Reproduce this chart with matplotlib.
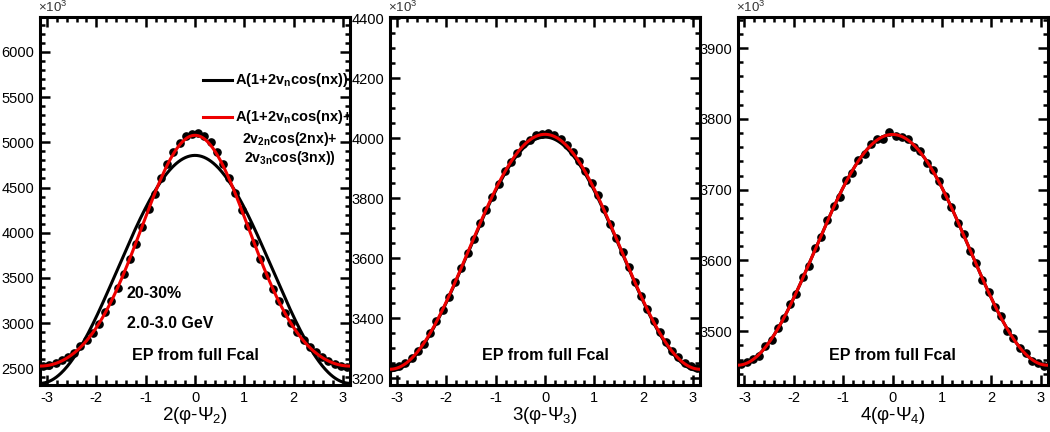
import numpy as np
import matplotlib
matplotlib.use('Agg')
import matplotlib.pyplot as plt

plt.rcParams['font.family'] = ['Liberation Sans', 'DejaVu Sans']
plt.rcParams['mathtext.fontset'] = 'custom'
plt.rcParams['mathtext.rm'] = 'Liberation Sans'
plt.rcParams['mathtext.it'] = 'Liberation Sans:italic'
plt.rcParams['mathtext.bf'] = 'Liberation Sans:bold'
plt.rcParams['axes.unicode_minus'] = False

# number of bins in the dPhi histogram
n_bins = 50

# data points (x10^3), left to right
counts_v2 = [2525, 2540, 2560, 2590, 2630, 2675, 2745, 2810, 2895, 2990, 3120, 3245, 3385,
             3540, 3710, 3880, 4065, 4260, 4430, 4610, 4755, 4890, 4995, 5068, 5095,
             5100, 5072, 5000, 4895, 4760, 4605, 4440, 4255, 4070, 3885, 3705, 3535, 3380,
             3240, 3115, 3000, 2900, 2815, 2740, 2680, 2625, 2585, 2550, 2530, 2520]
counts_v3 = [3238, 3242, 3250, 3268, 3292, 3316, 3353, 3390, 3428, 3472, 3523, 3567, 3617,
             3665, 3718, 3760, 3806, 3848, 3892, 3920, 3952, 3980, 3996, 4010, 4016,
             4018, 4012, 3998, 3978, 3955, 3925, 3890, 3850, 3810, 3765, 3716, 3668, 3620,
             3572, 3522, 3476, 3432, 3392, 3354, 3320, 3293, 3270, 3252, 3240, 3236]
counts_v4 = [3453, 3456, 3461, 3465, 3479, 3487, 3505, 3518, 3539, 3553, 3576, 3592, 3617,
             3633, 3657, 3677, 3690, 3713, 3724, 3742, 3750, 3764, 3771, 3772, 3781,
             3776, 3774, 3772, 3760, 3754, 3738, 3728, 3712, 3691, 3676, 3653, 3637, 3613,
             3596, 3572, 3556, 3534, 3521, 3501, 3490, 3476, 3469, 3458, 3455, 3451]

# fit parameters: A and [v_n, v_2n, v_3n]
fit_black = [(3595, [0.1753]), (3615, [0.0539]), (3615, [0.02255])]
fit_red = [(3595, [0.1753, 0.0287, 0.0022]), (3620, [0.0541, 0.0003]), (3615, [0.02255])]

xlabels = ['2(φ-Ψ$_2$)', '3(φ-Ψ$_3$)', '4(φ-Ψ$_4$)']
ylims = [(2316, 6386), (3178, 4405), (3424, 3944)]
ymajor = [500, 200, 100]
yminor = [100, 50, 20]
lefts = [40, 390, 737.5]


def fourier(x, A, vs):
    y = np.ones_like(x)
    for k, v in enumerate(vs):
        y = y + 2 * v * np.cos((k + 1) * x)
    return A * y


edges = np.linspace(-np.pi, np.pi, n_bins + 1)
xc = 0.5 * (edges[:-1] + edges[1:])
xf = np.linspace(-np.pi, np.pi, 400)

fig = plt.figure(figsize=(10.5, 4.32), dpi=100)
W, H = 1050.0, 432.0

for i, data in enumerate([counts_v2, counts_v3, counts_v4]):
    ax = fig.add_axes([lefts[i] / W, 1 - 385 / H, 310 / W, 368 / H])
    ax.plot(xc, data, 'o', color='black', ms=5.2, zorder=2)
    ax.plot(xf, fourier(xf, *fit_black[i]), color='black', lw=2.2, zorder=3)
    ax.plot(xf, fourier(xf, *fit_red[i]), color='#ee0000', lw=2.2, zorder=4)

    ax.set_xlim(-np.pi, np.pi)
    ax.set_ylim(*ylims[i])
    ax.xaxis.set_major_locator(plt.MultipleLocator(1))
    ax.xaxis.set_minor_locator(plt.MultipleLocator(0.2))
    ax.yaxis.set_major_locator(plt.MultipleLocator(ymajor[i]))
    ax.yaxis.set_minor_locator(plt.MultipleLocator(yminor[i]))
    ax.tick_params(which='both', direction='in', top=True, right=True, labelsize=10.5, pad=4)
    ax.tick_params(which='major', length=7, width=1.8)
    ax.tick_params(which='minor', length=3.8, width=1.8)
    for s in ax.spines.values():
        s.set_linewidth(2.2)
    ax.set_xlabel(xlabels[i], fontsize=13.5, labelpad=0)
    ax.text(-0.005, 1.005, '×10$^3$', transform=ax.transAxes, fontsize=9.5,
            color='#333333', ha='left', va='bottom')
    ax.text(0.5, 0.08, 'EP from full Fcal', transform=ax.transAxes, ha='center',
            va='center', fontsize=11.5, fontweight='bold')

    if i == 0:
        ax.text(0.28, 0.25, '20-30%', transform=ax.transAxes, ha='left', va='center',
                fontsize=11.5, fontweight='bold')
        ax.text(0.28, 0.168, '2.0-3.0 GeV', transform=ax.transAxes, ha='left', va='center',
                fontsize=11.5, fontweight='bold')
        # legend by hand
        ax.plot([0.525, 0.62], [0.83, 0.83], transform=ax.transAxes, color='black', lw=2.2)
        ax.plot([0.525, 0.62], [0.727, 0.727], transform=ax.transAxes, color='#ee0000', lw=2.2)
        ax.text(0.63, 0.83, r'A(1+2v$_\mathbf{n}$cos(nx))', transform=ax.transAxes,
                ha='left', va='center', fontsize=10.5, fontweight='bold')
        ax.text(0.63, 0.727, r'A(1+2v$_\mathbf{n}$cos(nx)+', transform=ax.transAxes,
                ha='left', va='center', fontsize=10.5, fontweight='bold')
        ax.text(0.805, 0.668, r'2v$_\mathbf{2n}$cos(2nx)+', transform=ax.transAxes,
                ha='center', va='center', fontsize=10.2, fontweight='bold')
        ax.text(0.805, 0.616, r'2v$_\mathbf{3n}$cos(3nx))', transform=ax.transAxes,
                ha='center', va='center', fontsize=10.2, fontweight='bold')

fig.savefig('out.png', dpi=100)
